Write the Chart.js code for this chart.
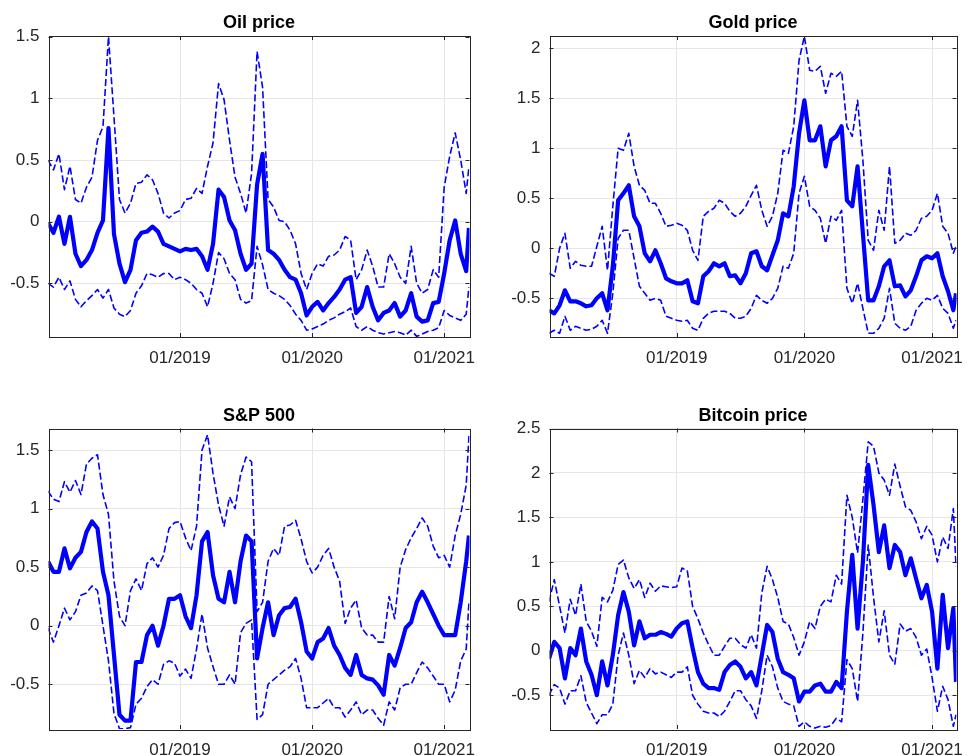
<!DOCTYPE html>
<html><head><meta charset="utf-8">
<script src="https://cdn.jsdelivr.net/npm/chart.js@4"></script>
<style>
html,body{margin:0;padding:0;background:#fff;}
#wrap{position:relative;width:974px;height:756px;overflow:hidden;}
canvas{position:absolute;left:0;top:0;}
</style>
</head><body>
<div id="wrap">
<canvas id="c0" width="974" height="756"></canvas>
<canvas id="c1" width="974" height="756"></canvas>
<canvas id="c2" width="974" height="756"></canvas>
<canvas id="c3" width="974" height="756"></canvas>
</div>
<script>
// x = months since 01/2018
const months = [0,0.5,1,1.5,2,2.5,3,3.5,4,4.5, 5,5.5,6,6.5,7,7.5,8,8.5,9,9.5,
  10,10.5,11,11.5,12,12.5,13,13.5,14,14.5, 15,15.5,16,16.5,17,17.5,18,18.5,19,19.5,
  20,20.5,21,21.5,22,22.5,23,23.5,24,24.5, 25,25.5,26,26.5,27,27.5,28,28.5,29,29.5,
  30,30.5,31,31.5,32,32.5,33,33.5,34,34.5, 35,35.5,36,36.5,37,37.5,38,38.25];
const xTickValues = [12, 24, 36];
const xTickLabels = ['01/2019', '01/2020', '01/2021'];
const titles = ['Oil price', 'Gold price', 'S&P 500', 'Bitcoin price'];

const oilMid = [-0.01,-0.09,0.04,-0.18,0.04,-0.26,-0.36,-0.31,-0.23,-0.09,
  0.01,0.76,-0.10,-0.34,-0.49,-0.39,-0.15,-0.09,-0.08,-0.04,
  -0.08,-0.18,-0.20,-0.22,-0.24,-0.22,-0.23,-0.22,-0.28,-0.39,
  -0.18,0.26,0.20,0.01,-0.07,-0.26,-0.39,-0.34,0.30,0.55,
  -0.23,-0.26,-0.31,-0.39,-0.45,-0.47,-0.58,-0.76,-0.69,-0.65,
  -0.72,-0.66,-0.61,-0.55,-0.47,-0.45,-0.74,-0.69,-0.53,-0.69,
  -0.80,-0.74,-0.72,-0.66,-0.77,-0.72,-0.58,-0.77,-0.81,-0.80,
  -0.66,-0.65,-0.42,-0.15,0.01,-0.26,-0.40,-0.05];
const oilUp = [0.50,0.42,0.55,0.26,0.45,0.18,0.15,0.28,0.36,0.66,
  0.77,1.50,0.85,0.18,0.07,0.15,0.31,0.32,0.38,0.34,
  0.23,0.07,0.03,0.07,0.09,0.18,0.19,0.27,0.23,0.45,
  0.64,1.12,0.99,0.66,0.36,0.23,0.07,0.39,1.38,1.09,
  0.18,0.12,0.01,0.00,-0.07,-0.18,-0.42,-0.55,-0.42,-0.34,
  -0.36,-0.28,-0.27,-0.23,-0.12,-0.15,-0.47,-0.39,-0.23,-0.36,
  -0.53,-0.53,-0.26,-0.34,-0.45,-0.50,-0.20,-0.50,-0.58,-0.55,
  -0.39,-0.45,0.28,0.53,0.72,0.50,0.23,0.45];
const oilLo = [-0.50,-0.53,-0.45,-0.55,-0.48,-0.63,-0.69,-0.64,-0.60,-0.55,
  -0.62,-0.55,-0.70,-0.75,-0.77,-0.72,-0.58,-0.52,-0.42,-0.43,
  -0.45,-0.42,-0.42,-0.47,-0.45,-0.47,-0.50,-0.55,-0.58,-0.69,
  -0.50,-0.25,-0.30,-0.42,-0.47,-0.63,-0.66,-0.64,-0.20,-0.35,
  -0.55,-0.58,-0.60,-0.63,-0.68,-0.75,-0.80,-0.88,-0.87,-0.85,
  -0.83,-0.80,-0.78,-0.75,-0.73,-0.70,-0.85,-0.88,-0.85,-0.88,
  -0.90,-0.91,-0.90,-0.89,-0.90,-0.92,-0.88,-0.93,-0.91,-0.89,
  -0.88,-0.86,-0.72,-0.76,-0.78,-0.80,-0.75,-0.53];

const goldMid = [-0.62,-0.65,-0.57,-0.42,-0.53,-0.53,-0.55,-0.58,-0.57,-0.50,
  -0.45,-0.62,-0.18,0.48,0.55,0.63,0.32,0.22,-0.05,-0.13,
  -0.02,-0.15,-0.30,-0.33,-0.35,-0.35,-0.32,-0.53,-0.55,-0.28,
  -0.23,-0.15,-0.18,-0.15,-0.28,-0.27,-0.35,-0.25,-0.05,-0.03,
  -0.18,-0.22,-0.07,0.08,0.35,0.32,0.62,1.15,1.48,1.08,
  1.08,1.22,0.82,1.08,1.12,1.22,0.48,0.42,0.82,0.15,
  -0.52,-0.52,-0.38,-0.18,-0.12,-0.38,-0.37,-0.48,-0.42,-0.28,
  -0.12,-0.08,-0.10,-0.05,-0.28,-0.43,-0.62,-0.45];
const goldUp = [-0.25,-0.28,0.00,0.15,-0.20,-0.13,-0.17,-0.18,-0.18,0.02,
  0.22,-0.22,0.42,1.00,0.98,1.15,0.82,0.63,0.58,0.45,
  0.45,0.35,0.22,0.23,0.25,0.23,0.18,-0.02,-0.12,0.32,
  0.37,0.40,0.48,0.45,0.37,0.32,0.35,0.42,0.53,0.63,
  0.38,0.22,0.32,0.55,0.98,0.95,1.22,1.88,2.12,1.78,
  1.77,1.82,1.55,1.75,1.72,1.77,1.22,1.12,1.48,0.88,
  0.08,-0.02,0.38,0.18,0.82,0.05,0.08,0.15,0.13,0.18,
  0.30,0.32,0.38,0.55,0.22,0.15,-0.05,0.02];
const goldLo = [-0.85,-0.82,-0.85,-0.68,-0.82,-0.78,-0.80,-0.82,-0.81,-0.78,
  -0.72,-0.85,-0.45,0.10,0.18,0.18,-0.10,-0.38,-0.45,-0.52,
  -0.50,-0.52,-0.68,-0.70,-0.72,-0.73,-0.72,-0.80,-0.82,-0.70,
  -0.65,-0.63,-0.63,-0.63,-0.65,-0.70,-0.70,-0.68,-0.60,-0.47,
  -0.52,-0.55,-0.50,-0.40,-0.18,-0.20,-0.05,0.55,0.72,0.42,
  0.38,0.30,0.05,0.32,0.28,0.38,-0.40,-0.55,-0.35,-0.60,
  -0.85,-0.85,-0.80,-0.70,-0.40,-0.75,-0.80,-0.82,-0.78,-0.62,
  -0.55,-0.50,-0.52,-0.47,-0.60,-0.65,-0.80,-0.72];

const spMid = [0.55,0.46,0.46,0.66,0.49,0.58,0.63,0.80,0.89,0.83,
  0.46,0.26,-0.25,-0.76,-0.81,-0.81,-0.31,-0.31,-0.08,0.00,
  -0.17,0.00,0.23,0.23,0.26,0.08,-0.02,0.26,0.72,0.80,
  0.43,0.23,0.20,0.46,0.20,0.55,0.77,0.72,-0.28,-0.02,
  0.20,-0.08,0.09,0.15,0.16,0.23,0.03,-0.22,-0.28,-0.14,
  -0.11,-0.02,-0.17,-0.25,-0.36,-0.42,-0.25,-0.42,-0.45,-0.46,
  -0.51,-0.59,-0.25,-0.34,-0.19,-0.02,0.03,0.20,0.29,0.20,
  0.10,0.00,-0.08,-0.08,-0.08,0.20,0.55,0.77];
const spUp = [1.15,1.08,1.06,1.23,1.14,1.24,1.12,1.38,1.43,1.46,
  1.12,0.95,0.38,0.08,0.00,0.30,0.40,0.30,0.53,0.58,
  0.50,0.60,0.83,0.88,0.89,0.75,0.64,0.85,1.50,1.63,
  1.30,1.03,0.85,1.10,1.00,1.29,1.44,1.40,0.12,0.20,
  0.55,0.66,0.60,0.85,0.86,0.90,0.74,0.55,0.45,0.50,
  0.60,0.66,0.50,0.38,0.02,0.15,0.22,-0.02,-0.08,-0.08,
  -0.14,-0.14,0.25,0.06,0.50,0.65,0.75,0.83,0.92,0.85,
  0.68,0.58,0.60,0.50,0.77,0.95,1.20,1.62];
const spLo = [-0.02,-0.14,0.00,0.15,0.05,0.12,0.26,0.28,0.34,0.30,
  0.00,-0.30,-0.75,-0.88,-0.88,-0.87,-0.67,-0.62,-0.52,-0.46,
  -0.50,-0.33,-0.30,-0.32,-0.43,-0.37,-0.45,-0.20,0.10,-0.19,
  -0.35,-0.50,-0.50,-0.42,-0.50,-0.06,0.02,0.05,-0.80,-0.76,
  -0.50,-0.46,-0.42,-0.38,-0.35,-0.28,-0.45,-0.70,-0.70,-0.70,
  -0.66,-0.62,-0.70,-0.70,-0.78,-0.72,-0.65,-0.76,-0.72,-0.72,
  -0.79,-0.85,-0.65,-0.72,-0.53,-0.50,-0.50,-0.40,-0.31,-0.36,
  -0.43,-0.50,-0.50,-0.65,-0.55,-0.30,-0.20,0.20];

const btcMid = [-0.09,0.10,0.03,-0.31,0.03,-0.05,0.25,-0.12,-0.27,-0.50,
  -0.12,-0.39,-0.05,0.40,0.66,0.44,0.06,0.33,0.14,0.18,
  0.18,0.21,0.19,0.16,0.25,0.31,0.33,0.03,-0.24,-0.37,
  -0.42,-0.42,-0.44,-0.24,-0.16,-0.12,-0.18,-0.31,-0.24,-0.39,
  -0.05,0.29,0.21,-0.09,-0.24,-0.27,-0.31,-0.57,-0.46,-0.46,
  -0.39,-0.37,-0.46,-0.46,-0.35,-0.42,0.44,1.08,0.25,1.00,
  2.09,1.64,1.11,1.41,0.93,1.19,1.11,0.85,1.04,0.81,
  0.59,0.74,0.44,-0.20,0.63,0.03,0.48,-0.35];
const btcUp = [0.55,0.80,0.50,0.20,0.58,0.40,0.75,0.33,0.22,0.05,
  0.60,0.55,0.68,0.97,1.02,0.82,0.70,0.80,0.60,0.76,
  0.67,0.73,0.72,0.71,0.72,0.93,0.90,0.50,0.36,0.20,
  0.07,-0.05,-0.05,0.05,0.14,0.14,0.07,0.03,0.18,0.03,
  0.65,0.95,0.80,0.60,0.33,0.30,0.15,-0.05,0.10,0.33,
  0.25,0.50,0.58,0.55,0.85,0.75,1.75,1.50,1.10,1.70,
  2.35,2.30,2.00,1.92,1.75,2.10,1.85,1.62,1.58,1.45,
  1.26,1.40,1.30,1.00,1.28,1.15,1.60,0.95];
const btcLo = [-0.50,-0.38,-0.42,-0.60,-0.45,-0.45,-0.28,-0.58,-0.70,-0.82,
  -0.72,-0.72,-0.60,-0.05,0.20,-0.05,-0.37,-0.22,-0.30,-0.20,
  -0.26,-0.24,-0.27,-0.30,-0.24,-0.24,-0.18,-0.50,-0.60,-0.68,
  -0.70,-0.70,-0.74,-0.68,-0.57,-0.45,-0.45,-0.55,-0.62,-0.76,
  -0.45,-0.05,-0.18,-0.42,-0.57,-0.60,-0.62,-0.85,-0.80,-0.85,
  -0.87,-0.85,-0.86,-0.84,-0.76,-0.80,-0.10,-0.20,-0.57,0.20,
  1.19,0.60,0.10,0.45,-0.05,-0.15,0.30,0.22,0.25,0.15,
  -0.05,0.02,-0.30,-0.68,-0.40,-0.55,-0.85,-0.72];

const yTicksOil = [-0.5, 0, 0.5, 1, 1.5];
const yTicksGold = [-0.5, 0, 0.5, 1, 1.5, 2];
const yTicksSp = [-0.5, 0, 0.5, 1, 1.5];
const yTicksBtc = [-0.5, 0, 0.5, 1, 1.5, 2, 2.5];

const INK = '#262626';
const BLUE = '#0000ff';
const FONT = "'Liberation Sans', Arial, Helvetica, sans-serif";
const X_MIN = 0.05, X_MAX = 38.3;
const Y_AXIS_W = 48;

function makePanel(canvasId, title, mid, up, lo, yTicks, yMin, yMax, area) {
  const xAxisH = 756 - area.bottom;   // x axis box runs to the canvas bottom (labels are clipped to it)
  const pts = arr => months.map((m, i) => ({x: m, y: arr[i]}));
  const dashed = arr => ({data: pts(arr), borderColor: BLUE, borderWidth: 1.6, borderDash: [7, 3],
    pointRadius: 0, clip: 0, borderJoinStyle: 'round', fill: false});
  const boxPlugin = {
    id: 'matlabBox',
    afterDatasetsDraw(chart) {
      const {ctx, chartArea: a, scales} = chart;
      ctx.save();
      ctx.strokeStyle = INK;
      ctx.lineWidth = 1;
      const tl = 4;
      ctx.beginPath();
      scales.x.ticks.forEach(t => {
        const px = Math.round(scales.x.getPixelForValue(t.value)) + 0.5;
        ctx.moveTo(px, a.bottom); ctx.lineTo(px, a.bottom - tl);
        ctx.moveTo(px, a.top); ctx.lineTo(px, a.top + tl);
      });
      scales.y.ticks.forEach(t => {
        const py = Math.round(scales.y.getPixelForValue(t.value)) + 0.5;
        ctx.moveTo(a.left, py); ctx.lineTo(a.left + tl, py);
        ctx.moveTo(a.right, py); ctx.lineTo(a.right - tl, py);
      });
      ctx.stroke();
      ctx.strokeRect(Math.round(a.left) + 0.5, Math.round(a.top) + 0.5,
        Math.round(a.right - a.left), Math.round(a.bottom - a.top));
      ctx.fillStyle = '#000';
      ctx.font = 'bold 18px ' + FONT;
      ctx.textAlign = 'center';
      ctx.textBaseline = 'alphabetic';
      ctx.fillText(title, (a.left + a.right) / 2, a.top - 8);
      ctx.restore();
    }
  };
  return new Chart(document.getElementById(canvasId), {
    type: 'line',
    data: {datasets: [dashed(up), {data: pts(mid), borderColor: BLUE, borderWidth: 4.2, pointRadius: 0,
      clip: 0, borderJoinStyle: 'round', fill: false}, dashed(lo)]},
    options: {
      responsive: false, animation: false, devicePixelRatio: 1, events: [],
      layout: {padding: {left: area.left - Y_AXIS_W, top: area.top, right: 974 - area.right, bottom: 0}},
      plugins: {legend: {display: false}, tooltip: {enabled: false}, title: {display: false}},
      scales: {
        x: {type: 'linear', position: 'bottom', min: X_MIN, max: X_MAX,
          afterBuildTicks: s => { s.ticks = xTickValues.map(v => ({value: v})); },
          afterFit: s => { s.height = xAxisH; },
          ticks: {autoSkip: false, maxRotation: 0, minRotation: 0, padding: 11, color: INK,
            font: {family: FONT, size: 17}, callback: (v, i) => xTickLabels[i]},
          grid: {color: '#e6e6e6', lineWidth: 1, drawTicks: false},
          border: {display: false}},
        y: {type: 'linear', position: 'left', min: yMin, max: yMax,
          afterBuildTicks: s => { s.ticks = yTicks.map(v => ({value: v})); },
          afterFit: s => { s.width = Y_AXIS_W; },
          ticks: {padding: 9, color: INK, font: {family: FONT, size: 17}, callback: v => String(v)},
          grid: {color: '#e6e6e6', lineWidth: 1, drawTicks: false},
          border: {display: false}}
      }
    },
    plugins: [boxPlugin]
  });
}

makePanel('c0', titles[0], oilMid, oilUp, oilLo, yTicksOil, -0.935, 1.506,
  {left: 48.5, top: 36, right: 469.5, bottom: 337});
makePanel('c1', titles[1], goldMid, goldUp, goldLo, yTicksGold, -0.887, 2.123,
  {left: 549.5, top: 36, right: 970.5, bottom: 337});
makePanel('c2', titles[2], spMid, spUp, spLo, yTicksSp, -0.882, 1.684,
  {left: 48.5, top: 428.5, right: 469.5, bottom: 729});
makePanel('c3', titles[3], btcMid, btcUp, btcLo, yTicksBtc, -0.88, 2.5,
  {left: 549.5, top: 428.5, right: 970.5, bottom: 729});
</script>
</body></html>
